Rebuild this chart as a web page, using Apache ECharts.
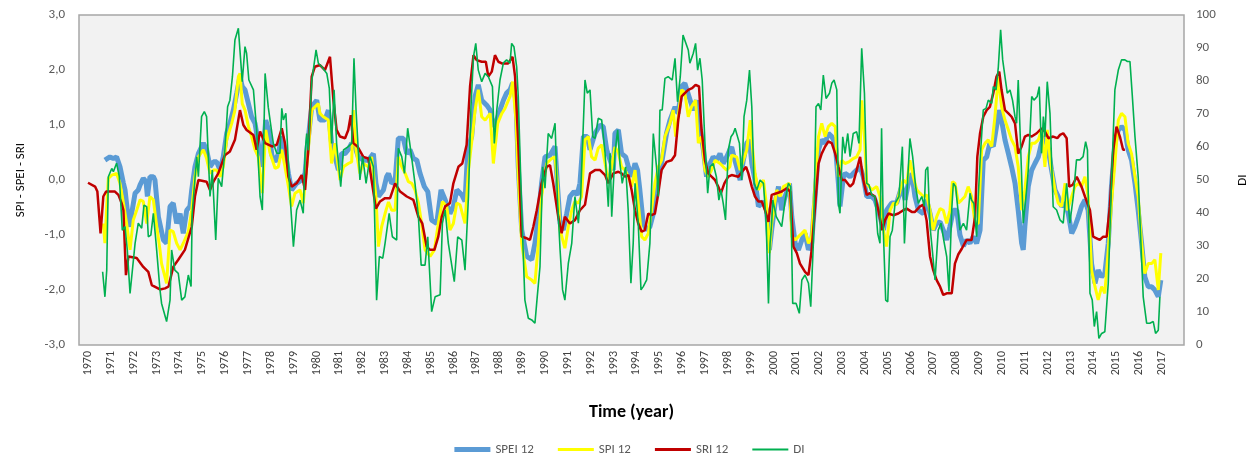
<!DOCTYPE html>
<html>
<head>
<meta charset="utf-8">
<script src="https://cdn.jsdelivr.net/npm/echarts@6.0.0/dist/echarts.min.js"></script>
<style>
  html, body { margin: 0; padding: 0; background: #fff; }
  #chart { width: 1259px; height: 457px; }
</style>
</head>
<body>
<div id="chart"></div>
<script>
// time axis in decimal years
const years = [];
for (let y = 1970; y <= 2017; y++) years.push(y);

const sriData = [
  [1970.0,-0.05],[1970.31,-0.12],[1970.41,-0.21],[1970.55,-0.97],[1970.67,-0.30],[1970.79,-0.21],[1971.18,-0.21],[1971.33,-0.27],[1971.47,-0.42],[1971.55,-0.55],[1971.66,-1.73],[1971.77,-1.39],[1972.13,-1.42],[1972.42,-1.58],[1972.64,-1.67],[1972.79,-1.91],[1973.15,-1.99],[1973.37,-1.97],[1973.52,-1.94],[1973.73,-1.58],[1973.95,-1.45],[1974.24,-1.27],[1974.54,-0.85],[1974.68,-0.30],[1974.83,0.0],[1975.19,-0.03],[1975.34,-0.18],[1975.49,-0.03],[1975.70,0.12],[1975.99,0.45],[1976.21,0.52],[1976.43,0.73],[1976.65,1.27],[1976.80,1.0],[1976.94,0.91],[1977.24,0.82],[1977.38,0.55],[1977.53,0.88],[1977.75,0.67],[1978.05,0.61],
  [1978.26,0.64],[1978.48,0.94],[1978.62,0.67],[1978.77,0.06],[1978.91,-0.12],[1979.13,-0.06],[1979.35,0.09],[1979.50,-0.18],[1979.64,0.55],[1979.79,1.88],[1979.93,2.06],[1980.15,2.09],[1980.37,2.0],[1980.59,2.24],[1980.74,1.45],[1980.88,0.91],[1981.03,0.79],[1981.25,0.76],[1981.39,0.91],[1981.50,1.18],[1981.61,0.67],[1981.79,0.61],[1982.05,0.42],[1982.27,0.39],[1982.41,0.0],[1982.60,-0.52],[1982.78,-0.39],[1983.0,-0.33],[1983.22,-0.33],[1983.44,-0.06],[1983.66,-0.21],[1983.95,-0.30],[1984.24,-0.36],[1984.46,-0.67],[1984.63,-0.79],[1984.82,-1.21],[1984.97,-1.27],[1985.16,-1.27],[1985.33,-1.03],[1985.48,-0.67],[1985.63,-0.48],[1985.84,-0.42],[1985.99,-0.06],[1986.21,0.24],[1986.38,0.30],[1986.57,0.64],[1986.72,1.70],[1986.87,2.27],[1987.01,2.18],[1987.23,2.15],[1987.41,2.15],[1987.52,1.88],[1987.67,1.97],[1987.81,2.27],[1987.96,2.15],[1988.11,2.12],[1988.25,2.12],[1988.39,2.12],[1988.58,2.24],[1988.69,1.88],[1988.83,0.67],[1988.98,-1.03],[1989.20,-1.06],[1989.34,-1.09],[1989.49,-0.85],[1989.64,-0.55],[1989.85,-0.06],[1990.07,0.24],[1990.22,0.27],[1990.36,-0.06],[1990.58,-0.67],[1990.73,-0.97],[1990.87,-0.67],[1991.09,-0.79],[1991.31,-0.73],[1991.53,-0.55],[1991.75,-0.45],[1991.97,0.12],[1992.19,0.18],[1992.41,0.18],[1992.63,0.09],[1992.77,-0.06],[1992.99,0.12],
  [1993.06,0.09],[1993.21,0.15],[1993.35,0.12],[1993.50,0.06],[1993.65,0.09],[1993.79,-0.18],[1993.94,-0.55],[1994.08,-0.79],[1994.23,-0.94],[1994.37,-0.91],[1994.52,-0.61],[1994.66,-0.64],[1994.81,-0.61],[1994.96,-0.24],[1995.10,0.18],[1995.32,0.33],[1995.54,0.36],[1995.69,0.45],[1995.83,1.09],[1995.98,1.52],[1996.12,1.58],[1996.27,1.64],[1996.44,1.67],[1996.59,1.73],[1996.74,1.70],[1996.85,0.91],[1997.0,0.36],[1997.14,0.12],[1997.29,0.06],[1997.44,0.0],[1997.58,-0.12],[1997.70,-0.24],[1997.85,-0.06],[1998.02,0.06],[1998.17,0.09],[1998.25,0.12],[1998.46,0.06],[1998.68,0.18],[1998.80,0.24],[1998.90,0.12],[1999.05,-0.12],[1999.19,-0.30],[1999.34,-0.39],[1999.49,-0.39],[1999.63,-0.55],[1999.78,-0.76],[1999.92,-0.27],[2000.14,-0.24],[2000.36,-0.21],[2000.58,-0.15],[2000.73,-0.21],[2000.87,-1.21],[2001.02,-1.33],[2001.16,-1.52],[2001.38,-1.67],[2001.53,-1.73],[2001.67,-1.27],[2001.82,-0.48],[2001.97,0.30],[2002.11,0.48],[2002.26,0.61],[2002.40,0.70],[2002.55,0.67],[2002.70,0.48],[2002.84,0.24],[2002.99,0.0],[2003.13,0.0],[2003.35,-0.12],[2003.49,-0.06],[2003.64,0.18],[2003.79,0.42],[2003.93,0.0],[2004.08,-0.27],[2004.22,-0.24],[2004.44,-0.30],[2004.59,-0.55],[2004.76,-0.91],[2004.88,-0.73],[2005.03,-0.61],[2005.25,-0.64],[2005.46,-0.61],[2005.68,-0.55],[2005.83,-0.52],[2006.05,-0.58],[2006.19,-0.58],[2006.41,-0.48],[2006.56,-0.45],[2006.70,-0.73],[2006.85,-1.39],[2006.99,-1.64],[2007.14,-1.82],[2007.29,-1.94],[2007.43,-2.09],[2007.58,-2.06],[2007.80,-2.06],[2007.94,-1.52],[2008.09,-1.35],[2008.24,-1.25],
  [2008.45,-1.09],[2008.67,-1.09],[2008.82,-0.67],[2008.92,0.42],[2009.04,0.85],[2009.18,1.15],[2009.33,1.27],[2009.47,1.33],[2009.62,1.58],[2009.76,1.88],[2009.88,1.97],[2009.98,1.64],[2010.13,1.27],[2010.28,1.21],[2010.42,1.15],[2010.57,1.03],[2010.71,0.48],[2010.86,0.61],[2011.0,0.79],[2011.15,0.82],[2011.30,0.79],[2011.52,0.85],[2011.73,0.94],[2011.88,0.88],[2012.03,0.76],[2012.24,0.79],[2012.42,0.76],[2012.54,0.82],[2012.68,0.85],[2012.83,0.76],[2012.94,-0.12],[2013.09,-0.09],[2013.27,0.06],[2013.34,0.06],[2013.48,-0.12],[2013.63,-0.30],[2013.85,-0.55],[2013.99,-1.03],[2014.14,-1.06],[2014.28,-1.09],[2014.43,-1.03],[2014.58,-1.03],[2014.72,-0.48],[2014.87,0.55],[2015.01,0.97],[2015.16,0.79],[2015.30,0.55],[2015.38,0.55]
];

const speiData = [
  [1970.74,0.36],[1970.82,0.39],[1970.96,0.42],[1971.11,0.39],[1971.25,0.42],[1971.40,0.24],[1971.55,-0.06],[1971.62,-0.18],[1971.72,-0.55],[1971.84,-0.85],[1971.91,-0.61],[1972.06,-0.24],[1972.20,-0.18],[1972.28,-0.09],[1972.42,0.03],[1972.54,-0.03],[1972.60,-0.30],[1972.71,0.06],[1972.86,0.06],[1972.93,0.0],[1973.08,-0.67],[1973.30,-1.09],[1973.44,-1.15],[1973.59,-0.48],[1973.73,-0.42],[1973.88,-0.79],[1974.03,-0.61],[1974.17,-0.97],[1974.32,-0.55],[1974.46,-0.48],[1974.54,-0.18],[1974.68,0.24],[1974.83,0.48],[1975.05,0.67],[1975.19,0.55],[1975.34,0.24],[1975.49,0.33],[1975.63,0.33],[1975.78,0.18],[1975.92,0.42],[1976.07,0.85],[1976.21,1.03],[1976.36,1.27],[1976.51,1.58],[1976.65,1.88],[1976.75,1.70],[1976.87,1.64],[1977.02,1.39],[1977.16,1.15],[1977.31,1.03],[1977.45,0.67],[1977.60,0.24],[1977.78,1.09],[1977.90,0.91],[1978.05,0.45],[1978.19,0.33],[1978.33,0.48],[1978.48,0.79],[1978.62,0.55],[1978.77,0.12],[1978.91,-0.18],[1979.13,-0.06],[1979.35,0.0],[1979.50,0.12],[1979.60,0.61],[1979.79,1.33],[1980.01,1.45],[1980.15,1.09],[1980.37,1.09],[1980.52,1.27],[1980.66,0.67],[1980.81,0.42],[1980.96,0.18],[1981.10,0.48],[1981.25,0.48],[1981.39,0.55],[1981.54,0.67],[1981.68,0.61],[1981.83,0.42],[1982.05,0.36],[1982.27,0.36],[1982.49,0.48],[1982.60,-0.06],[1982.71,-0.30],[1982.93,-0.18],[1983.07,0.06],[1983.15,0.12],
  [1983.29,-0.06],[1983.44,-0.03],[1983.58,0.76],[1983.80,0.76],[1983.95,0.48],[1984.09,0.55],[1984.24,0.39],[1984.39,0.36],[1984.53,0.12],[1984.72,-0.12],[1984.87,-0.21],[1985.04,-0.73],[1985.26,-0.79],[1985.45,-0.18],[1985.63,-0.36],[1985.84,-0.61],[1985.99,-0.48],[1986.14,-0.18],[1986.36,-0.27],[1986.50,-0.39],[1986.62,0.55],[1986.79,0.79],[1986.94,1.52],[1987.08,1.73],[1987.23,1.45],[1987.45,1.36],[1987.60,1.27],[1987.74,0.97],[1987.89,1.09],[1988.03,1.27],[1988.18,1.45],[1988.32,1.58],[1988.47,1.64],[1988.58,1.76],[1988.73,1.45],[1988.83,0.24],[1988.98,-0.91],[1989.20,-1.39],[1989.42,-1.45],[1989.56,-1.15],[1989.71,-0.67],[1989.85,-0.06],[1990.0,0.42],[1990.22,0.45],[1990.44,0.61],[1990.54,-0.06],[1990.66,-0.79],[1990.80,-0.91],[1990.95,-0.61],[1991.09,-0.30],[1991.27,-0.21],[1991.41,-0.27],[1991.53,-0.06],[1991.68,0.79],[1991.85,0.79],[1991.97,0.55],[1992.19,0.85],[1992.41,1.0],[1992.55,0.97],[1992.70,0.55],[1992.85,0.36],[1992.99,0.18],
  [1993.06,0.85],[1993.21,0.91],[1993.35,0.48],[1993.53,0.42],[1993.65,0.24],[1993.79,0.06],[1993.94,0.30],[1994.05,0.18],[1994.15,-0.18],[1994.30,-0.79],[1994.45,-0.91],[1994.59,-0.85],[1994.74,-0.61],[1994.88,-0.18],[1995.10,0.30],[1995.32,0.85],[1995.47,1.09],[1995.69,1.33],[1995.83,1.21],[1995.98,1.70],[1996.12,1.76],[1996.30,1.52],[1996.49,1.27],[1996.63,1.45],[1996.78,0.97],[1996.93,0.55],[1997.07,0.06],[1997.22,0.30],[1997.36,0.42],[1997.51,0.36],[1997.66,0.48],[1997.80,0.30],[1997.95,0.42],[1998.09,0.55],[1998.17,0.60],[1998.25,0.45],[1998.39,0.24],[1998.54,0.0],[1998.68,0.36],[1998.83,0.67],[1998.95,0.73],[1999.05,0.30],[1999.19,0.0],[1999.34,-0.48],[1999.56,-0.39],[1999.70,-0.55],[1999.82,-1.27],[1999.92,-0.91],[2000.07,-0.42],[2000.22,-0.12],[2000.36,-0.55],[2000.51,-0.30],[2000.70,-0.06],[2000.80,-0.67],[2000.95,-1.15],[2001.09,-1.27],[2001.24,-1.09],[2001.38,-0.97],[2001.53,-1.27],[2001.67,-1.15],[2001.82,-0.30],[2001.97,0.55],[2002.11,0.73],[2002.26,0.67],[2002.40,0.85],[2002.55,0.79],[2002.70,0.67],[2002.84,-0.06],[2002.91,-0.48],[2003.06,0.06],[2003.13,0.12],[2003.35,0.06],[2003.49,0.12],[2003.64,0.18],[2003.79,0.24],[2003.93,0.06],[2004.08,-0.30],[2004.30,-0.30],[2004.44,-0.36],[2004.59,-0.55],[2004.81,-0.91],[2004.95,-0.55],[2005.17,-0.42],[2005.39,-0.42],[2005.61,-0.12],[2005.76,-0.36],[2005.90,-0.06],[2006.05,0.12],[2006.19,-0.30],[2006.34,-0.55],[2006.56,-0.61],[2006.70,-0.36],[2006.85,-0.61],[2006.99,-0.91],[2007.14,-0.79],[2007.29,-0.76],[2007.43,-0.91],[2007.58,-1.09],[2007.72,-0.85],[2007.87,-0.55],[2008.02,-0.55],
  [2008.16,-1.0],[2008.31,-1.20],[2008.45,-1.09],[2008.60,-1.15],[2008.74,-1.03],[2008.89,-1.15],[2009.04,-0.91],[2009.18,0.36],[2009.33,0.42],[2009.47,0.67],[2009.62,0.61],[2009.76,0.97],[2009.88,1.27],[2009.98,1.09],[2010.13,0.73],[2010.28,0.48],[2010.42,0.24],[2010.57,-0.06],[2010.71,-0.55],[2010.86,-1.15],[2010.93,-1.27],[2011.0,-0.85],[2011.15,-0.12],[2011.30,0.18],[2011.44,0.30],[2011.59,0.42],[2011.73,0.67],[2011.88,0.79],[2012.03,0.55],[2012.17,0.18],[2012.32,-0.18],[2012.46,-0.30],[2012.61,-0.48],[2012.76,-0.42],[2012.90,-0.61],[2013.05,-0.97],[2013.19,-0.85],[2013.34,-0.67],[2013.48,-0.48],[2013.63,-0.36],[2013.77,-0.55],[2013.92,-1.52],[2014.07,-1.88],[2014.21,-1.64],[2014.36,-1.76],[2014.50,-1.70],[2014.65,-1.15],[2014.79,-0.12],[2014.94,0.67],[2015.09,0.91],[2015.23,0.97],[2015.38,0.91],[2015.52,0.55],[2015.67,0.36],[2015.82,-0.06],[2015.96,-0.55],[2016.11,-1.15],[2016.25,-1.76],[2016.40,-1.94],[2016.55,-1.94],[2016.69,-2.0],[2016.84,-2.12],[2016.95,-1.82]
];

const spiData = [
  [1970.67,-0.79],[1970.74,-1.15],[1970.82,-0.48],[1970.89,0.03],[1971.04,0.09],[1971.25,0.12],[1971.40,-0.06],[1971.55,-0.42],[1971.69,-0.79],[1971.84,-1.27],[1971.98,-0.73],[1972.13,-0.55],[1972.28,-0.36],[1972.42,-0.39],[1972.57,-0.79],[1972.71,-0.30],[1972.86,-0.36],[1972.99,-0.79],[1973.15,-1.27],[1973.22,-1.52],[1973.44,-1.88],[1973.59,-0.91],[1973.73,-0.94],[1973.88,-1.15],[1974.03,-1.27],[1974.17,-1.15],[1974.39,-0.94],[1974.54,-0.55],[1974.68,0.06],[1974.83,0.42],[1975.05,0.55],[1975.19,0.39],[1975.34,0.12],[1975.49,0.18],[1975.63,0.18],[1975.78,0.06],[1975.92,0.24],[1976.07,0.73],[1976.29,1.03],[1976.43,1.27],[1976.58,1.88],[1976.65,1.94],[1976.75,1.39],[1976.87,1.27],[1977.02,0.97],[1977.16,0.79],[1977.31,0.55],[1977.45,0.42],[1977.63,-0.24],[1977.78,0.91],[1977.96,0.50],[1978.19,0.21],[1978.33,0.24],[1978.48,0.55],[1978.62,0.24],[1978.77,-0.12],[1978.91,-0.48],[1979.06,-0.24],[1979.28,-0.18],[1979.42,-0.42],[1979.60,0.36],[1979.79,1.27],[1980.08,1.39],[1980.15,1.21],[1980.30,1.15],[1980.52,1.09],[1980.66,0.30],[1980.81,0.67],[1981.03,0.0],[1981.18,0.24],[1981.39,0.30],[1981.54,0.33],[1981.61,1.27],[1981.73,0.55],[1981.90,0.12],[1982.05,0.30],[1982.27,0.24],[1982.41,0.42],[1982.60,-0.30],[1982.71,-1.21],[1982.85,-0.85],[1983.0,-0.61],[1983.15,-0.40],
  [1983.29,-0.55],[1983.44,-0.55],[1983.58,0.42],[1983.73,0.24],[1983.88,0.12],[1984.02,-0.03],[1984.17,-0.06],[1984.31,-0.18],[1984.46,-0.42],[1984.60,-0.79],[1984.75,-1.27],[1984.97,-1.39],[1985.16,-1.27],[1985.33,-0.79],[1985.51,-0.39],[1985.70,-0.48],[1985.84,-0.91],[1985.99,-0.79],[1986.14,-0.42],[1986.28,-0.45],[1986.50,-0.79],[1986.65,0.18],[1986.82,0.79],[1986.94,1.27],[1987.08,1.64],[1987.23,1.15],[1987.38,1.09],[1987.60,1.21],[1987.74,0.30],[1987.93,1.03],[1988.11,1.21],[1988.25,1.30],[1988.32,1.33],[1988.47,1.52],[1988.58,1.79],[1988.73,1.09],[1988.83,0.06],[1988.98,-1.15],[1989.20,-1.76],[1989.42,-1.82],[1989.56,-1.88],[1989.71,-1.15],[1989.85,-0.30],[1990.07,0.30],[1990.29,0.39],[1990.44,0.42],[1990.54,-0.06],[1990.66,-0.91],[1990.87,-1.24],[1991.02,-0.85],[1991.17,-0.55],[1991.31,-0.39],[1991.46,-0.42],[1991.60,-0.30],[1991.75,0.73],[1991.90,0.79],[1992.04,0.42],[1992.19,0.36],[1992.33,0.58],[1992.48,0.64],[1992.63,0.30],[1992.77,-0.03],[1992.92,0.24],
  [1993.06,0.60],[1993.21,0.50],[1993.35,0.24],[1993.50,0.18],[1993.65,0.06],[1993.79,-0.12],[1993.94,0.18],[1994.08,-0.42],[1994.23,-1.03],[1994.37,-1.09],[1994.52,-0.97],[1994.66,-0.55],[1994.81,-0.06],[1994.96,0.24],[1995.10,0.36],[1995.25,0.79],[1995.47,1.03],[1995.61,1.27],[1995.72,0.79],[1995.83,1.15],[1995.98,1.64],[1996.12,1.58],[1996.27,1.15],[1996.41,1.33],[1996.59,1.45],[1996.71,0.67],[1996.85,0.79],[1997.0,0.18],[1997.14,0.06],[1997.29,0.18],[1997.44,0.36],[1997.66,0.30],[1997.80,0.24],[1997.95,0.18],[1998.09,0.24],[1998.17,0.45],[1998.25,0.42],[1998.39,0.42],[1998.54,0.18],[1998.68,0.36],[1998.83,0.55],[1998.98,1.09],[1999.09,0.55],[1999.19,0.12],[1999.34,-0.18],[1999.56,0.0],[1999.70,-0.48],[1999.82,-1.33],[1999.92,-0.79],[2000.14,-0.18],[2000.29,-0.30],[2000.43,-0.12],[2000.70,-0.06],[2000.80,-1.03],[2000.95,-1.09],[2001.09,-1.03],[2001.24,-0.97],[2001.38,-0.91],[2001.53,-1.15],[2001.67,-1.03],[2001.82,-0.06],[2001.97,0.79],[2002.11,1.03],[2002.26,0.79],[2002.40,0.97],[2002.55,1.03],[2002.70,0.97],[2002.84,0.06],[2002.99,0.36],[2003.13,0.30],[2003.30,0.33],[2003.49,0.39],[2003.64,0.42],[2003.79,0.55],[2003.86,1.45],[2003.98,0.79],[2004.08,-0.06],[2004.30,-0.18],[2004.52,-0.12],[2004.66,-0.30],[2004.81,-0.91],[2004.95,-1.21],[2005.10,-0.55],[2005.25,-0.42],[2005.39,-0.45],[2005.54,-0.18],[2005.68,0.0],[2005.83,-0.06],[2005.97,0.36],[2006.12,0.06],[2006.27,-0.18],[2006.41,-0.24],[2006.56,-0.30],[2006.70,-0.27],[2006.85,-0.55],[2006.99,-0.91],[2007.14,-0.67],[2007.29,-0.52],[2007.43,-0.55],[2007.58,-0.79],[2007.72,-0.55],[2007.83,-0.03],[2007.94,-0.06],[2008.09,-0.42],[2008.24,-0.36],
  [2008.38,-0.30],[2008.52,-0.12],[2008.67,-0.30],[2008.82,-0.79],[2008.96,-0.79],[2009.11,0.55],[2009.26,0.67],[2009.40,0.73],[2009.55,0.61],[2009.69,1.15],[2009.84,1.88],[2009.98,1.33],[2010.13,1.09],[2010.28,0.91],[2010.42,0.73],[2010.57,0.61],[2010.71,0.24],[2010.86,-0.55],[2011.0,-0.18],[2011.15,0.42],[2011.30,0.67],[2011.44,0.67],[2011.59,0.73],[2011.73,0.91],[2011.88,0.24],[2011.98,0.91],[2012.13,0.30],[2012.32,-0.18],[2012.46,-0.42],[2012.61,-0.48],[2012.76,-0.06],[2012.86,-0.55],[2013.05,-0.30],[2013.19,-0.12],[2013.34,-0.06],[2013.48,-0.12],[2013.63,0.06],[2013.77,-0.30],[2013.92,-1.64],[2014.07,-1.94],[2014.21,-2.18],[2014.36,-1.94],[2014.50,-2.06],[2014.65,-1.27],[2014.79,-0.42],[2014.94,0.30],[2015.09,1.09],[2015.23,1.21],[2015.38,1.15],[2015.52,0.67],[2015.67,0.48],[2015.82,0.06],[2015.96,-0.30],[2016.11,-1.15],[2016.25,-1.70],[2016.40,-1.52],[2016.55,-1.52],[2016.69,-1.45],[2016.84,-2.0],[2016.95,-1.33]
];

const diData = [
  [1970.64,22.2],[1970.74,14.6],[1970.82,22.7],[1970.89,51.0],[1970.96,51.5],[1971.04,53.5],[1971.11,52.5],[1971.25,55.1],[1971.37,51.0],[1971.50,34.8],[1971.62,35.9],[1971.72,28.8],[1971.84,15.6],[1971.91,15.6],[1972.06,30.8],[1972.20,36.9],[1972.35,35.4],[1972.45,42.4],[1972.57,41.9],[1972.64,32.8],[1972.75,33.3],[1972.86,39.9],[1972.98,30.8],[1973.15,16.7],[1973.22,12.6],[1973.44,7.1],[1973.59,13.6],[1973.66,28.8],[1973.80,22.7],[1973.95,21.7],[1974.10,13.6],[1974.24,14.6],[1974.39,21.2],[1974.51,17.7],[1974.56,40.0],[1974.76,57.0],[1974.83,51.0],[1974.97,69.2],[1975.09,70.7],[1975.19,69.2],[1975.34,45.0],[1975.44,53.0],[1975.59,31.8],[1975.70,50.5],[1975.85,48.0],[1975.99,59.0],[1976.11,72.2],[1976.21,74.2],[1976.32,81.3],[1976.43,92.4],[1976.58,96.0],[1976.65,96.5],[1976.75,79.8],[1976.87,90.4],[1976.94,88.4],[1977.04,80.3],[1977.24,77.3],[1977.38,65.2],[1977.53,45.0],[1977.63,40.9],[1977.75,82.3],[1977.89,72.0],[1977.97,68.0],[1978.11,61.1],[1978.26,58.1],[1978.40,58.1],[1978.48,71.7],[1978.55,68.2],[1978.66,70.2],[1978.77,55.0],[1978.84,45.5],[1978.99,29.8],[1979.13,40.9],[1979.28,43.9],[1979.42,39.9],[1979.50,58.1],[1979.57,64.1],[1979.64,59.0],[1979.79,79.8],[1979.98,89.4],[1980.08,85.4],[1980.23,84.3],[1980.45,82.3],[1980.56,77.8],[1980.66,61.1],[1980.77,77.3],[1980.88,61.1],[1981.06,48.0],[1981.18,59.1],[1981.39,60.1],[1981.54,61.1],[1981.64,86.9],[1981.73,71.2],[1981.90,50.0],[1982.02,57.1],[1982.17,49.0],[1982.34,57.1],[1982.49,54.0],[1982.63,13.6],[1982.75,26.8],[1982.90,26.3],[1983.0,30.8],[1983.18,39.9],
  [1983.32,32.8],[1983.51,31.8],[1983.58,59.6],[1983.73,57.1],[1983.85,52.0],[1983.99,65.7],[1984.14,58.1],[1984.31,49.0],[1984.46,38.9],[1984.58,24.2],[1984.75,24.2],[1984.87,32.8],[1985.04,10.1],[1985.19,14.6],[1985.41,15.2],[1985.51,36.9],[1985.63,40.9],[1985.77,30.8],[1986.03,19.2],[1986.18,32.8],[1986.36,31.8],[1986.50,22.7],[1986.65,45.0],[1986.76,72.2],[1986.87,87.4],[1986.97,91.4],[1987.08,83.3],[1987.23,79.8],[1987.38,82.3],[1987.52,81.3],[1987.70,78.3],[1987.78,61.1],[1987.89,71.2],[1988.03,80.3],[1988.18,85.5],[1988.32,86.4],[1988.47,85.4],[1988.54,91.4],[1988.64,90.4],[1988.76,84.3],[1988.83,75.3],[1988.98,40.9],[1989.12,13.6],[1989.27,8.1],[1989.42,7.6],[1989.56,6.6],[1989.66,14.6],[1989.78,23.7],[1989.90,54.0],[1990.0,47.5],[1990.14,64.1],[1990.29,62.6],[1990.44,67.2],[1990.54,45.0],[1990.66,28.8],[1990.77,16.7],[1990.87,13.6],[1991.02,24.7],[1991.17,30.8],[1991.31,45.0],[1991.46,36.9],[1991.56,45.0],[1991.75,80.3],[1991.85,76.3],[1991.97,77.3],[1992.09,63.1],[1992.19,62.6],[1992.33,68.7],[1992.48,68.2],[1992.63,58.1],[1992.77,41.9],[1992.85,58.1],[1992.92,38.9],
  [1993.06,58.0],[1993.18,65.2],[1993.28,55.0],[1993.38,49.0],[1993.53,54.0],[1993.64,40.9],[1993.76,18.7],[1993.86,30.8],[1993.94,49.0],[1994.08,36.9],[1994.20,16.7],[1994.30,17.7],[1994.45,19.7],[1994.59,30.8],[1994.74,64.1],[1994.88,54.0],[1994.96,45.0],[1995.03,71.2],[1995.13,71.2],[1995.25,80.8],[1995.39,81.3],[1995.57,80.3],[1995.69,86.9],[1995.80,73.7],[1995.92,81.3],[1996.04,93.9],[1996.12,94.4],[1996.27,89.4],[1996.34,85.4],[1996.49,88.4],[1996.59,91.4],[1996.68,83.3],[1996.78,86.9],[1996.88,80.3],[1997.0,61.1],[1997.12,46.0],[1997.22,54.0],[1997.36,55.0],[1997.50,51.0],[1997.61,43.9],[1997.70,47.0],[1997.80,42.9],[1997.90,37.9],[1998.02,59.1],[1998.14,63.1],[1998.24,64.1],[1998.32,65.7],[1998.51,61.1],[1998.61,50.0],[1998.71,69.2],[1998.83,74.2],[1998.95,83.3],[1999.05,72.2],[1999.15,49.0],[1999.27,47.0],[1999.41,50.0],[1999.56,49.0],[1999.68,36.9],[1999.78,12.6],[1999.85,30.8],[1999.92,36.9],[1999.97,43.9],[2000.12,38.9],[2000.36,35.9],[2000.51,43.9],[2000.65,49.0],[2000.75,48.0],[2000.84,12.6],[2000.99,12.6],[2001.13,9.6],[2001.24,19.7],[2001.38,21.2],[2001.53,18.7],[2001.63,11.6],[2001.75,31.8],[2001.86,72.2],[2001.97,73.2],[2002.07,71.2],[2002.18,81.8],[2002.30,74.7],[2002.45,76.3],[2002.55,79.3],[2002.65,80.3],[2002.77,77.3],[2002.84,42.9],[2002.91,39.9],[2003.03,63.1],[2003.13,58.1],[2003.25,64.1],[2003.35,57.1],[2003.49,64.1],[2003.64,64.6],[2003.74,61.1],[2003.86,89.9],[2003.98,76.3],[2004.08,49.0],[2004.18,48.5],[2004.30,45.5],[2004.44,45.0],[2004.56,33.8],[2004.66,30.8],[2004.73,65.7],[2004.81,33.8],[2004.91,13.6],[2005.0,13.1],[2005.10,32.8],[2005.20,34.8],[2005.32,42.9],[2005.49,45.0],[2005.64,60.1],[2005.73,30.8],[2005.83,45.0],[2005.97,62.6],[2006.09,57.1],[2006.22,48.0],[2006.34,42.9],[2006.49,45.0],[2006.60,42.0],[2006.66,53.0],[2006.75,54.0],[2006.85,35.9],[2006.95,28.8],[2007.07,19.7],[2007.21,34.8],[2007.33,36.9],[2007.45,31.8],[2007.58,26.8],[2007.68,16.2],[2007.80,40.9],[2007.87,49.0],[2007.97,48.0],
  [2008.16,34.8],[2008.31,36.9],[2008.45,34.8],[2008.60,46.0],[2008.67,43.9],[2008.77,42.9],[2008.89,32.8],[2008.96,45.0],[2009.06,58.1],[2009.18,71.2],[2009.30,71.7],[2009.40,74.2],[2009.55,73.2],[2009.62,78.3],[2009.74,77.3],[2009.84,84.3],[2009.94,95.5],[2010.03,86.4],[2010.13,81.3],[2010.23,76.3],[2010.35,77.3],[2010.46,74.2],[2010.57,69.2],[2010.64,67.2],[2010.71,80.3],[2010.82,59.1],[2010.93,36.9],[2011.05,45.0],[2011.15,53.0],[2011.30,75.3],[2011.40,74.2],[2011.54,75.3],[2011.63,78.3],[2011.73,58.1],[2011.81,69.2],[2011.88,63.1],[2011.98,79.8],[2012.10,70.2],[2012.24,41.9],[2012.39,40.9],[2012.54,37.9],[2012.68,36.9],[2012.83,49.0],[2012.97,36.9],[2013.12,45.0],[2013.26,56.1],[2013.41,56.1],[2013.55,57.1],[2013.66,61.6],[2013.74,59.1],[2013.85,15.7],[2013.95,13.6],[2014.04,5.6],[2014.14,10.1],[2014.24,2.0],[2014.36,3.5],[2014.50,4.0],[2014.65,18.7],[2014.79,49.0],[2014.94,77.3],[2015.09,83.3],[2015.23,86.4],[2015.38,86.4],[2015.49,85.9],[2015.60,85.9],[2015.70,75.8],[2015.82,63.1],[2015.96,51.0],[2016.08,30.8],[2016.18,14.6],[2016.33,6.6],[2016.47,6.6],[2016.62,7.1],[2016.72,3.5],[2016.84,4.5],[2016.91,14.6]
];

const FONT = 'Carlito, "Liberation Sans Narrow", "Liberation Sans", sans-serif';

var chart = echarts.init(document.getElementById('chart'), null, { renderer: 'canvas' });

var option = {
    animation: false,
    backgroundColor: '#fff',
    textStyle: { fontFamily: FONT },
    grid: {
        left: 79,
        right: 75,
        top: 15,
        bottom: 112,
        show: true,
        backgroundColor: '#f2f2f2',
        borderColor: '#a6a6a6',
        borderWidth: 1.5
    },
    legend: {
        data: [
            { name: 'SPEI 12', icon: 'path://M0,0H36V5H0Z' },
            { name: 'SPI 12', icon: 'path://M0,0H36V3H0Z' },
            { name: 'SRI 12', icon: 'path://M0,0H36V3H0Z' },
            { name: 'DI', icon: 'path://M0,0H36V2H0Z' }
        ],
        left: 'center',
        top: 438,
        itemWidth: 36,
        itemHeight: 10,
        itemGap: 24,
        textStyle: { color: '#595959', fontSize: 13, fontFamily: FONT }
    },
    xAxis: {
        type: 'value',
        min: 1969.606,
        max: 2017.965,
        name: 'Time (year)',
        nameLocation: 'middle',
        nameGap: 58,
        nameTextStyle: { fontSize: 18, fontWeight: 'bold', color: '#000', fontFamily: FONT },
        splitLine: { show: false },
        axisLine: { show: false },
        axisTick: { show: false },
        axisLabel: {
            customValues: years,
            rotate: 90,
            margin: 6,
            color: '#404040',
            fontSize: 12,
            fontFamily: FONT,
            formatter: function (v) { return String(Math.round(v)); }
        }
    },
    yAxis: [{
        type: 'value',
        min: -3,
        max: 3,
        interval: 1,
        name: 'SPI - SPEI - SRI',
        nameLocation: 'middle',
        nameGap: 52,
        nameTextStyle: { fontSize: 13, color: '#000', fontFamily: FONT },
        splitLine: { show: false },
        axisLine: { show: false },
        axisTick: { show: false },
        axisLabel: {
            color: '#595959',
            fontSize: 13,
            margin: 14,
            formatter: function (v) { return v.toFixed(1).replace('.', ','); }
        }
    }, {
        type: 'value',
        min: 0,
        max: 100,
        interval: 10,
        name: 'DI',
        nameLocation: 'middle',
        nameGap: 52,
        nameTextStyle: { fontSize: 13, color: '#000', fontFamily: FONT },
        splitLine: { show: false },
        axisLine: { show: false },
        axisTick: { show: false },
        axisLabel: { color: '#595959', fontSize: 13, margin: 12 }
    }],
    series: [{
            name: 'SPEI 12',
            type: 'line',
            symbol: 'none',
            data: speiData,
            itemStyle: { color: '#5b9bd5' },
            lineStyle: { width: 5, color: '#5b9bd5' }
        },
        {
            name: 'SPI 12',
            type: 'line',
            symbol: 'none',
            data: spiData,
            itemStyle: { color: '#ffff00' },
            lineStyle: { width: 3, color: '#ffff00' }
        },
        {
            name: 'SRI 12',
            type: 'line',
            symbol: 'none',
            data: sriData,
            itemStyle: { color: '#c00000' },
            lineStyle: { width: 2.5, color: '#c00000' }
        },
        {
            name: 'DI',
            type: 'line',
            symbol: 'none',
            yAxisIndex: 1,
            data: diData,
            itemStyle: { color: '#00b050' },
            lineStyle: { width: 1.6, color: '#00b050' }
        }
    ]
};

chart.setOption(option);

window.onresize = function() {
    chart.resize();
}
</script>
</body>
</html>
